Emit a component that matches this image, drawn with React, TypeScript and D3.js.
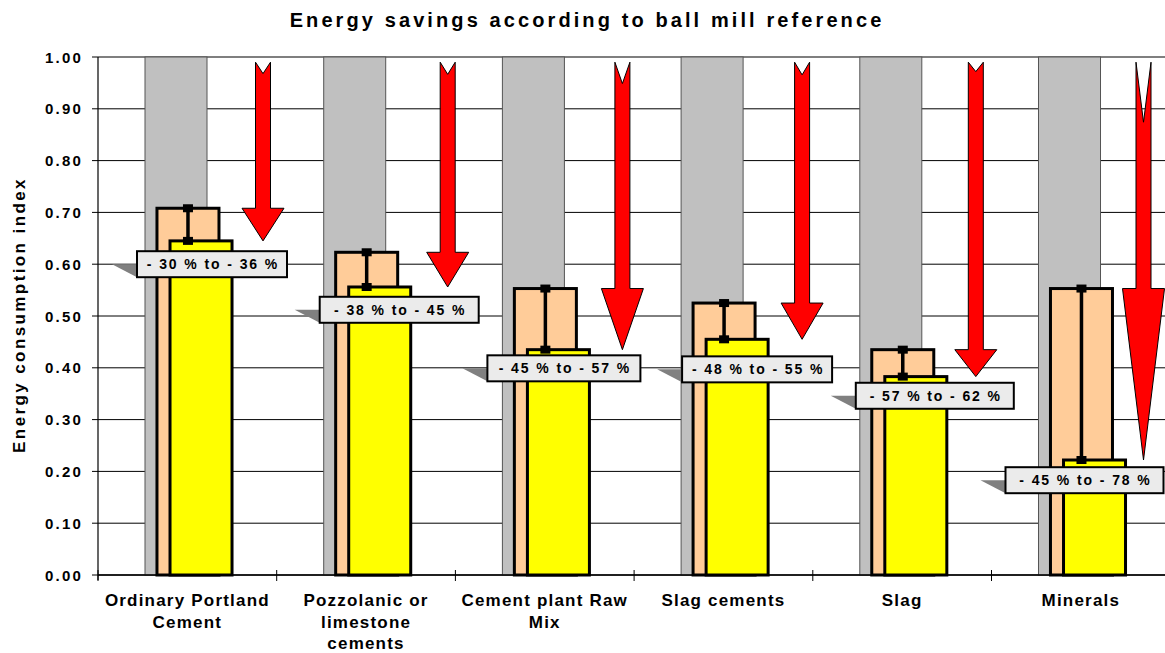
import React from "react";
import * as d3 from "d3";

// ---------- data ----------
const categories = [
  "Ordinary Portland Cement",
  "Pozzolanic or limestone cements",
  "Cement plant Raw Mix",
  "Slag cements",
  "Slag",
  "Minerals",
];
const categoryLines = [
  ["Ordinary Portland", "Cement"],
  ["Pozzolanic or", "limestone", "cements"],
  ["Cement plant Raw", "Mix"],
  ["Slag cements"],
  ["Slag"],
  ["Minerals"],
];
const ballMillReference = [1, 1, 1, 1, 1, 1];
const upperIndex = [0.708, 0.623, 0.553, 0.525, 0.435, 0.553];
const lowerIndex = [0.645, 0.556, 0.435, 0.455, 0.383, 0.222];
const savingLabels = [
  "- 30 % to - 36 %",
  "- 38 % to - 45 %",
  "- 45 % to - 57 %",
  "- 48 % to - 55 %",
  "- 57 % to - 62 %",
  "- 45 % to - 78 %",
];
const yTicks = [0, 0.1, 0.2, 0.3, 0.4, 0.5, 0.6, 0.7, 0.8, 0.9, 1.0];
const arrowTopValue = 0.99;

// ---------- layout (callout / arrow placement) ----------
const arrowDx = [165, 171, 167, 168, 163, 152];
const boxDx = [39, 43, 32, 48, 43, 14];
const boxMidValue = [0.6, 0.512, 0.399, 0.397, 0.346, 0.183];
const boxW = [150, 159, 153, 150, 158, 158];

const W = 1165;
const H = 653;
const M = { left: 98, top: 57, bottom: 575 };
const plotRight = 98 + 6 * 178.7;
const FONT = "'Liberation Sans', Arial, Helvetica, sans-serif";

export default function App() {
  const x = d3.scaleBand<string>().domain(categories).range([M.left, plotRight]).padding(0);
  const y = d3.scaleLinear().domain([0, 1]).range([M.bottom, M.top]);
  const bw = x.bandwidth();
  const barW = bw * 0.347;
  const grayOff = bw * 0.263;
  const orangeOff = bw * 0.33;
  const yellowOff = bw * 0.403;

  return (
    <svg
      width={W}
      height={H}
      style={{ position: "absolute", left: 0, top: 0, display: "block", background: "#fff" }}
      fontFamily={FONT}
    >
      <text
        x={587}
        y={27}
        textAnchor="middle"
        fontSize={20}
        fontWeight="bold"
        letterSpacing={3.1}
      >
        Energy savings according to ball mill reference
      </text>

      <text
        transform={`translate(25,315) rotate(-90)`}
        textAnchor="middle"
        fontSize={17}
        fontWeight="bold"
        letterSpacing={2.4}
      >
        Energy consumption index
      </text>

      {/* gridlines */}
      {yTicks.map((t) => (
        <line
          key={"g" + t}
          x1={M.left}
          x2={W}
          y1={y(t)}
          y2={y(t)}
          stroke={t === 1 ? "#555" : "#000"}
          strokeWidth={t === 1 ? 1.5 : 1}
        />
      ))}
      {/* y ticks + labels */}
      {yTicks.map((t) => (
        <g key={"t" + t}>
          <line x1={M.left - 6} x2={M.left} y1={y(t)} y2={y(t)} stroke="#000" />
          <text
            x={83}
            y={y(t) + 5.5}
            textAnchor="end"
            fontSize={15}
            fontWeight="bold"
            letterSpacing={2.2}
          >
            {t.toFixed(2)}
          </text>
        </g>
      ))}

      {/* gray reference bars */}
      {categories.map((c, i) => (
        <rect
          key={"gr" + i}
          x={(x(c) as number) + grayOff}
          y={y(ballMillReference[i])}
          width={barW}
          height={y(0) - y(ballMillReference[i])}
          fill="#c0c0c0"
          stroke="#555"
          strokeWidth={1}
        />
      ))}
      {/* orange bars */}
      {categories.map((c, i) => (
        <rect
          key={"or" + i}
          x={(x(c) as number) + orangeOff}
          y={y(upperIndex[i])}
          width={barW}
          height={y(0) - y(upperIndex[i])}
          fill="#ffcc99"
          stroke="#000"
          strokeWidth={3}
        />
      ))}
      {/* yellow bars */}
      {categories.map((c, i) => (
        <rect
          key={"ye" + i}
          x={(x(c) as number) + yellowOff}
          y={y(lowerIndex[i])}
          width={barW}
          height={y(0) - y(lowerIndex[i])}
          fill="#ffff00"
          stroke="#000"
          strokeWidth={3}
        />
      ))}
      {/* range bars */}
      {categories.map((c, i) => {
        const cx = (x(c) as number) + orangeOff + barW / 2;
        return (
          <g key={"eb" + i}>
            <line x1={cx} x2={cx} y1={y(upperIndex[i])} y2={y(lowerIndex[i])} stroke="#000" strokeWidth={3.5} />
            <rect x={cx - 5} y={y(upperIndex[i]) - 4} width={10} height={8} fill="#000" />
            <rect x={cx - 5} y={y(lowerIndex[i]) - 4} width={10} height={8} fill="#000" />
          </g>
        );
      })}

      {/* axes */}
      <line x1={M.left} x2={M.left} y1={M.top} y2={M.bottom + 5} stroke="#000" strokeWidth={1.2} />
      <line x1={M.left} x2={W} y1={M.bottom} y2={M.bottom} stroke="#000" strokeWidth={1.5} />
      {d3.range(categories.length + 1).map((k) => {
        const xx = M.left + k * bw;
        return <line key={"xt" + k} x1={xx} x2={xx} y1={M.bottom - 5} y2={M.bottom + 6} stroke="#000" strokeWidth={1} />;
      })}

      {/* red arrows */}
      {categories.map((c, i) => {
        const cx = (x(c) as number) + arrowDx[i];
        const y0 = y(arrowTopValue);
        const yh = y(upperIndex[i]);
        const yt = y(lowerIndex[i]);
        const notch = (yt - yh) * 0.35;
        const sw = 7.5;
        const hw = 21;
        const pts = [
          [cx - sw, y0],
          [cx, y0 + notch],
          [cx + sw, y0],
          [cx + sw, yh],
          [cx + hw, yh],
          [cx, yt],
          [cx - hw, yh],
          [cx - sw, yh],
        ];
        return (
          <polygon
            key={"ar" + i}
            points={pts.map((p) => p.join(",")).join(" ")}
            fill="#ff0000"
            stroke="#000"
            strokeWidth={1}
            strokeLinejoin="miter"
          />
        );
      })}

      {/* callout labels */}
      {categories.map((c, i) => {
        const left = (x(c) as number) + boxDx[i];
        const mid = y(boxMidValue[i]);
        const h = 26;
        const top = mid - h / 2;
        const bottom = mid + h / 2;
        return (
          <g key={"lb" + i}>
            <polygon
              points={`${left - 25},${mid} ${left},${mid} ${left},${bottom}`}
              fill="#808080"
            />
            <rect x={left} y={top} width={boxW[i]} height={h} fill="#ebebeb" stroke="#000" strokeWidth={2} />
            <text
              x={left + boxW[i] / 2 + 1}
              y={mid + 5}
              textAnchor="middle"
              fontSize={14}
              fontWeight="bold"
              letterSpacing={1.9}
            >
              {savingLabels[i]}
            </text>
          </g>
        );
      })}

      {/* category labels */}
      {categories.map((c, i) => {
        const cx = (x(c) as number) + bw / 2;
        return (
          <text key={"cl" + i} textAnchor="middle" fontSize={17} fontWeight="bold" letterSpacing={1.2}>
            {categoryLines[i].map((ln, j) => (
              <tspan key={j} x={cx} y={606 + j * 21.5}>
                {ln}
              </tspan>
            ))}
          </text>
        );
      })}
    </svg>
  );
}
